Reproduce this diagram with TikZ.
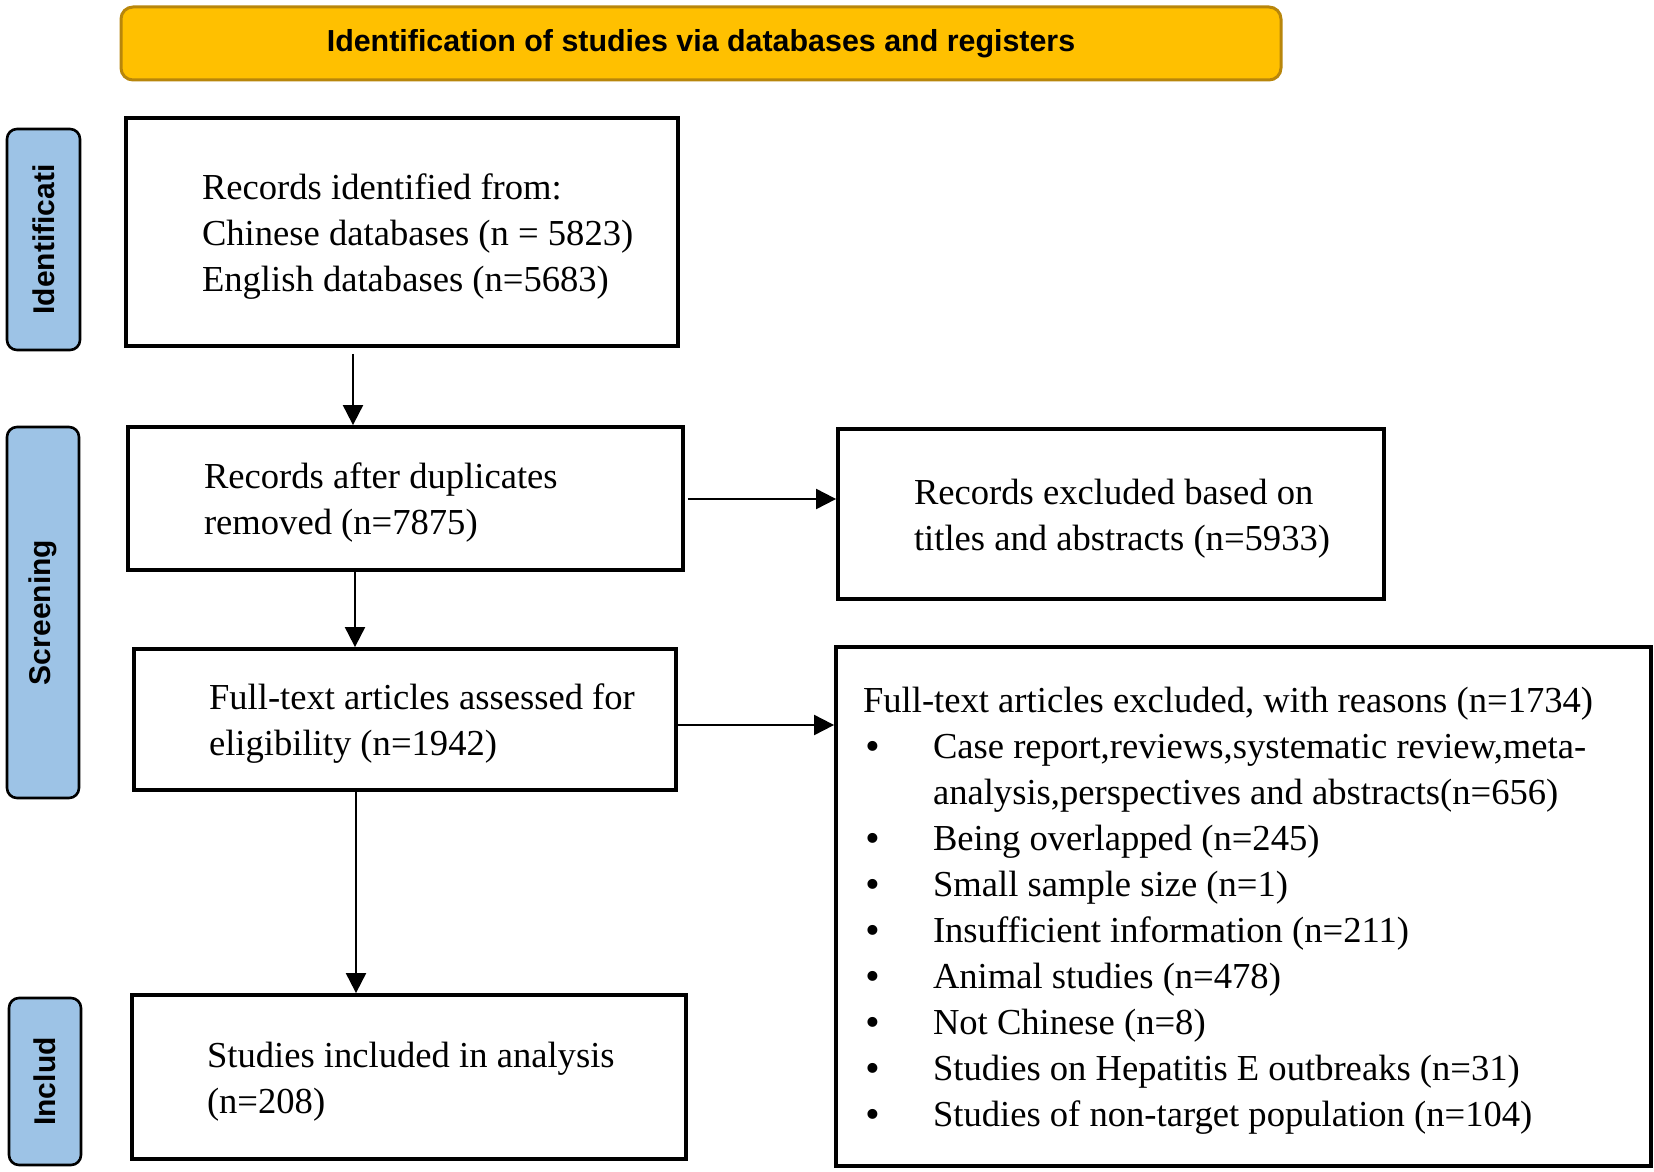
\documentclass[tikz,border=0pt]{standalone}
\usepackage{fontspec}
\setmainfont{Liberation Serif}
\setsansfont{Liberation Sans}
\usetikzlibrary{arrows.meta,calc}
\definecolor{bannerfill}{HTML}{FFC000}
\definecolor{bannerline}{HTML}{B8860B}
\definecolor{stagefill}{HTML}{9DC3E6}
\newcommand\boxfont{\fontsize{18.3}{23}\selectfont}
% indent, full width, lines
\newcommand\boxtext[3]{\raisebox{-2pt}[\height][\depth]{\makebox[#2][l]{\hspace*{#1}\begin{tabular}{@{}l@{}}#3\end{tabular}}}}
\newcommand\itm{\makebox[35pt][l]{\hspace{1.5pt}{\bfseries\textbullet}}}
\begin{document}
\begin{tikzpicture}[x=0.5pt,y=-0.5pt,
  box/.style={draw, line width=1.9pt, inner xsep=0pt, inner ysep=0pt, font=\boxfont},
  stage/.style={draw=black, line width=1.3pt, fill=stagefill, rounded corners=5pt, rotate=90,
    inner sep=0pt, font=\sffamily\bfseries\fontsize{15}{18}\selectfont},
  banner/.style={draw=bannerline, line width=1.5pt, fill=bannerfill, rounded corners=6pt,
    inner sep=0pt, font=\sffamily\bfseries\fontsize{15.2}{18}\selectfont},
  arr/.style={line width=1pt, -{Triangle[length=10pt,width=10pt]}}]
\useasboundingbox (0,0) rectangle (1654,1172);

\node[banner, minimum width=580pt, minimum height=36.5pt] (ban) at (701,43.5)
  {Identification of studies via databases and registers};

\node[stage, minimum width=110.5pt, minimum height=36.5pt] (s1) at (43.5,239.5) {Identificati};
\node[stage, minimum width=185.5pt, minimum height=36pt] (s2) at (43,612.5) {Screening};
\node[stage, minimum width=83.5pt, minimum height=36pt] (s3) at (45,1081.5) {Includ};

\node[box, minimum width=276pt, minimum height=114pt] (b1) at (402,232)
  {\boxtext{38pt}{276pt}{Records identified from:\\Chinese databases (n = 5823)\\English databases (n=5683)}};
\node[box, minimum width=277.5pt, minimum height=71.5pt] (b2) at (405.5,498.5)
  {\boxtext{38pt}{277.5pt}{Records after duplicates\\removed (n=7875)}};
\node[box, minimum width=273pt, minimum height=85pt] (b3) at (1111,514)
  {\boxtext{38pt}{273pt}{Records excluded based on\\titles and abstracts (n=5933)}};
\node[box, minimum width=271pt, minimum height=70.5pt] (b4) at (405,719.5)
  {\boxtext{37.5pt}{271pt}{Full-text articles assessed for\\eligibility (n=1942)}};
\node[box, minimum width=407.5pt, minimum height=259.5pt] (b5) at (1243.5,906.5)
  {\boxtext{13.5pt}{407.5pt}{Full-text articles excluded, with reasons (n=1734)\\
   \itm Case report,reviews,systematic review,meta-\\
   \hspace*{35pt}analysis,perspectives and abstracts(n=656)\\
   \itm Being overlapped (n=245)\\
   \itm Small sample size (n=1)\\
   \itm Insufficient information (n=211)\\
   \itm Animal studies (n=478)\\
   \itm Not Chinese (n=8)\\
   \itm Studies on Hepatitis E outbreaks (n=31)\\
   \itm Studies of non-target population (n=104)}};
\node[box, minimum width=277pt, minimum height=82pt] (b6) at (409,1077)
  {\boxtext{37.5pt}{277pt}{Studies included in analysis\\(n=208)}};

\coordinate (x1) at (353,0);
\coordinate (x2) at (355,0);
\coordinate (x3) at (356,0);
\coordinate (y1) at (0,499);
\coordinate (y2) at (0,725);

\draw[arr] ($(b1.south -| x1)+(0,6)$) -- (b2.north -| x1);
\draw[arr] (b2.south -| x2) -- (b4.north -| x2);
\draw[arr] (b4.south -| x3) -- (b6.north -| x3);
\draw[arr] ($(b2.east |- y1)+(3,0)$) -- (b3.west |- y1);
\draw[arr] (b4.east |- y2) -- (b5.west |- y2);
\end{tikzpicture}
\end{document}
